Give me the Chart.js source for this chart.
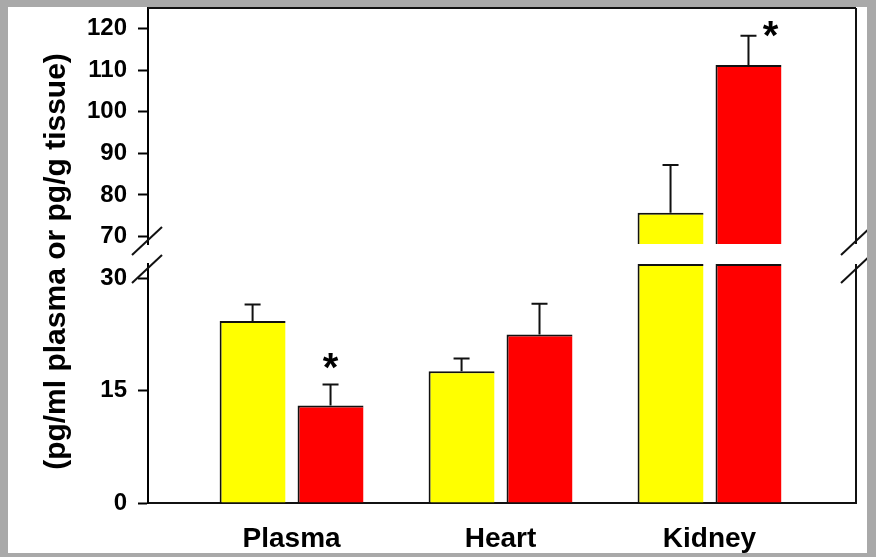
<!DOCTYPE html>
<html>
<head>
<meta charset="utf-8">
<script src="https://cdn.jsdelivr.net/npm/chart.js@4.4.0/dist/chart.umd.min.js"></script>
<style>
  html, body { margin: 0; padding: 0; background: #a9a9a9; }
  body { width: 876px; height: 557px; position: relative; overflow: hidden; }
  #wrap { position: absolute; left: 8px; top: 7px; width: 859px; height: 546px; background: #fff; }
</style>
</head>
<body>
<div id="wrap"><canvas id="chart" width="859" height="546"></canvas></div>
<script>
// Chart data
const categories = ['Plasma', 'Heart', 'Kidney'];
const controlValues = [24.3, 17.6, 75.7];
const controlErrors = [2.2, 1.7, 11.5];
const treatedValues = [13.0, 22.5, 111.3];
const treatedErrors = [2.8, 4.1, 7.0];
const significant = [false, false, false];
const treatedSignificant = [true, false, true];
const upperTicks = [70, 80, 90, 100, 110, 120];
const lowerTicks = [0, 15, 30];

// Broken axis ranges
const upperMin = 68.2, upperMax = 125;
const lowerMin = 0, lowerMax = 31.9;

const FONT = "'Liberation Sans', Arial, sans-serif";
Chart.defaults.font.family = FONT;
Chart.defaults.font.weight = 'bold';
Chart.defaults.color = '#000';

// lower part of every bar is clamped to the lower axis, upper part floats above the break
function lowerPart(values) {
    return values.map(v => Math.min(v, lowerMax));
}
function upperPart(values) {
    return values.map(v => v > upperMin ? [upperMin, v] : null);
}

// no label overhang padding, the frame fills the white area
function noPadding(s) {
    s.paddingTop = 0;
    s.paddingBottom = 0;
    s.paddingLeft = 0;
    s.paddingRight = 0;
}

function yAxis(min, max, tickList, weight) {
    const hasTicks = tickList.length > 0;
    return {
        type: 'linear',
        position: 'left',
        stack: 'y',
        stackWeight: weight,
        stacked: false,
        min: min,
        max: max,
        afterBuildTicks: s => { s.ticks = tickList.map(v => ({ value: v })); },
        afterFit: s => { s.width = 140; noPadding(s); },
        grid: {
            display: hasTicks,
            drawOnChartArea: false,
            drawTicks: true,
            tickLength: 10,
            tickWidth: 2,
            color: '#000',
            tickColor: '#000'
        },
        border: { display: hasTicks, color: '#000', width: 2 },
        ticks: {
            display: hasTicks,
            autoSkip: false,
            padding: 11,
            color: '#000',
            font: { size: 24, weight: 'bold' }
        }
    };
}

const barStyle = {
    borderColor: '#111',
    borderWidth: { top: 2, left: 2, right: 0, bottom: 0 },
    borderSkipped: 'start',
    categoryPercentage: 0.746,
    barPercentage: 0.846
};

// Error bars, asterisks, frame and axis breaks
const extrasPlugin = {
    id: 'extras',
    afterDatasetsDraw(chart) {
        const { ctx, chartArea, scales } = chart;
        const top = scales.yTop, bot = scales.yBot;
        ctx.save();
        ctx.strokeStyle = '#111';
        ctx.lineWidth = 2;

        const groups = [
            { values: controlValues, errors: controlErrors, stars: significant, lower: 0, upper: 2 },
            { values: treatedValues, errors: treatedErrors, stars: treatedSignificant, lower: 1, upper: 3 }
        ];
        groups.forEach(g => {
            g.values.forEach((v, i) => {
                const isUpper = v > upperMin;
                const scale = isUpper ? top : bot;
                const el = chart.getDatasetMeta(isUpper ? g.upper : g.lower).data[i];
                const x = el.x;
                const y0 = scale.getPixelForValue(v);
                const y1 = scale.getPixelForValue(v + g.errors[i]);
                ctx.beginPath();
                ctx.moveTo(x, y0);
                ctx.lineTo(x, y1);
                ctx.moveTo(x - 8, y1);
                ctx.lineTo(x + 8, y1);
                ctx.stroke();

                if (g.stars[i]) {
                    ctx.fillStyle = '#000';
                    ctx.font = 'bold 40px ' + FONT;
                    ctx.textAlign = 'center';
                    ctx.textBaseline = 'alphabetic';
                    let sx = x, sy = y1 - 26;
                    if (sy < chartArea.top + 20) {
                        sx = x + 22;
                        sy = y1 - 9;
                    }
                    ctx.fillText('*', sx, sy + 22);
                }
            });
        });
        ctx.restore();
    },
    afterDraw(chart) {
        const { ctx, chartArea, scales } = chart;
        const top = scales.yTop, bot = scales.yBot;
        ctx.save();
        ctx.strokeStyle = '#111';
        ctx.lineWidth = 2;
        // top and right frame lines, right one broken like the y axis
        ctx.beginPath();
        ctx.moveTo(chartArea.left, chartArea.top);
        ctx.lineTo(chartArea.right, chartArea.top);
        ctx.moveTo(chartArea.right, chartArea.top);
        ctx.lineTo(chartArea.right, top.bottom);
        ctx.moveTo(chartArea.right, bot.top);
        ctx.lineTo(chartArea.right, chartArea.bottom);
        ctx.stroke();

        // break marks
        [chartArea.left - 1, chartArea.right].forEach(ax => {
            [top.bottom - 3, bot.top + 5].forEach(cy => {
                ctx.beginPath();
                ctx.moveTo(ax - 15, cy + 14);
                ctx.lineTo(ax + 15, cy - 14);
                ctx.stroke();
            });
        });

        // y axis title
        ctx.fillStyle = '#000';
        ctx.font = 'bold 30px ' + FONT;
        ctx.textAlign = 'center';
        ctx.textBaseline = 'middle';
        ctx.translate(49, (chartArea.top + chartArea.bottom) / 2 + 6);
        ctx.rotate(-Math.PI / 2);
        ctx.fillText('(pg/ml plasma or pg/g tissue)', 0, 0);
        ctx.restore();
    }
};

const ctx = document.getElementById('chart');
const chart = new Chart(ctx, {
    type: 'bar',
    data: {
        datasets: [
            Object.assign({ label: 'Control', data: lowerPart(controlValues).map((v, i) => ({ x: i + 1, y: v })), backgroundColor: '#ffff00', yAxisID: 'yBot', stack: 'a' }, barStyle),
            Object.assign({ label: 'Treated', data: lowerPart(treatedValues).map((v, i) => ({ x: i + 1, y: v })), backgroundColor: '#ff0000', yAxisID: 'yBot', stack: 'b' }, barStyle),
            Object.assign({ label: 'Control', data: upperPart(controlValues).map((v, i) => ({ x: i + 1, y: v })), backgroundColor: '#ffff00', yAxisID: 'yTop', stack: 'a' }, barStyle),
            Object.assign({ label: 'Treated', data: upperPart(treatedValues).map((v, i) => ({ x: i + 1, y: v })), backgroundColor: '#ff0000', yAxisID: 'yTop', stack: 'b' }, barStyle)
        ]
    },
    options: {
        responsive: false,
        animation: false,
        devicePixelRatio: 1,
        layout: { autoPadding: false, padding: { top: 1, right: 11, left: 0, bottom: 0 } },
        plugins: {
            legend: { display: false },
            tooltip: { enabled: false }
        },
        scales: {
            x: {
                type: 'linear',
                offset: false,
                min: 0.313,
                max: 3.701,
                afterBuildTicks: s => { s.ticks = categories.map((c, i) => ({ value: i + 1 })); },
                afterFit: s => { s.height = 50; noPadding(s); },
                grid: { display: false },
                border: { display: true, color: '#111', width: 2 },
                ticks: {
                    autoSkip: false,
                    maxRotation: 0,
                    padding: 11,
                    color: '#000',
                    font: { size: 28, weight: 'bold' },
                    callback: v => categories[v - 1] || ''
                }
            },
            yBot: yAxis(lowerMin, lowerMax, lowerTicks, 239),
            yGap: yAxis(0, 1, [], 20),
            yTop: yAxis(upperMin, upperMax, upperTicks, 236)
        }
    },
    plugins: [extrasPlugin]
});
</script>
</body>
</html>
